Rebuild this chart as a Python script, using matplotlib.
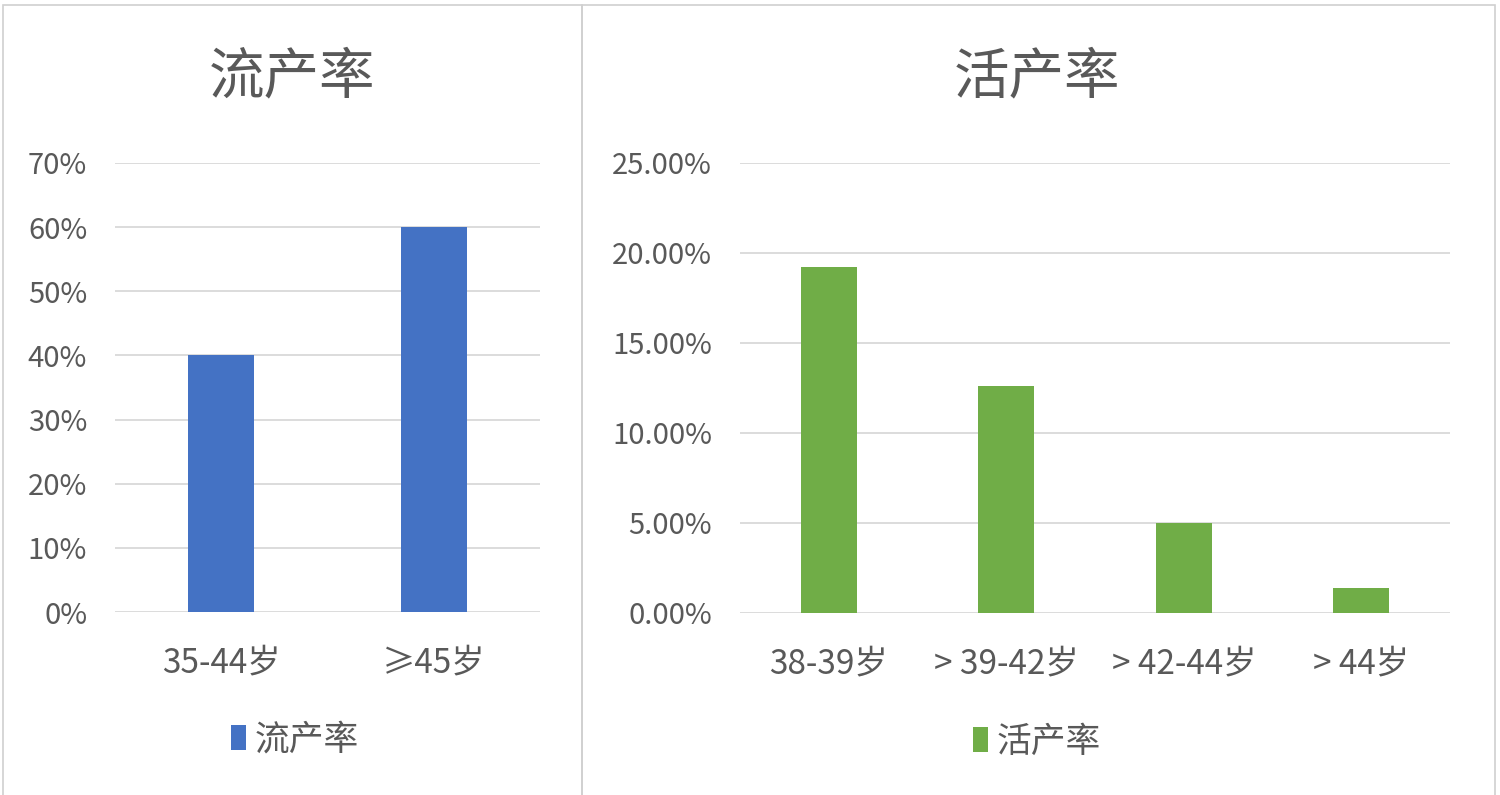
import matplotlib
matplotlib.use("Agg")
import matplotlib.pyplot as plt
from matplotlib.patches import Rectangle
from matplotlib.ticker import FuncFormatter

plt.rcParams['font.family'] = ['Noto Sans CJK SC', 'DejaVu Sans']

# data
left_title = "流产率"
left_cats = ["35-44岁", "≥45岁"]
left_vals = [0.40, 0.60]

right_title = "活产率"
right_cats = ["38-39岁", "> 39-42岁", "> 42-44岁", "> 44岁"]
right_vals = [0.192, 0.126, 0.050, 0.014]

BLUE = "#4472C4"
GREEN = "#70AD47"
GRID = "#D9D9D9"
TXT = "#595959"

W, H = 1500, 795
fig = plt.figure(figsize=(W / 100, H / 100), dpi=100)
fig.patch.set_facecolor("white")


def px_axes(x0, y0, x1, y1):
    # pixel box (top-left origin) -> figure axes
    return fig.add_axes([x0 / W, 1 - y1 / H, (x1 - x0) / W, (y1 - y0) / H])


def style(ax, ymax, step, fmt):
    ax.set_ylim(0, ymax)
    ax.set_yticks([i * step for i in range(int(round(ymax / step)) + 1)])
    ax.yaxis.set_major_formatter(FuncFormatter(fmt))
    ax.grid(axis='y', color=GRID, linewidth=1.3)
    ax.set_axisbelow(True)
    for s in ax.spines.values():
        s.set_visible(False)
    ax.tick_params(axis='both', length=0, colors=TXT)
    ax.tick_params(axis='y', pad=20, labelsize=21)
    ax.tick_params(axis='x', pad=24, labelsize=24)
    ax.set_facecolor("none")


# panel borders
fig.patches.append(Rectangle((3 / W, -0.01), 579 / W, 1 - 5 / H + 0.01,
                             transform=fig.transFigure, fill=False,
                             edgecolor="#D0D0D0", linewidth=1.2))
fig.patches.append(Rectangle((582 / W, -0.01), 913 / W, 1 - 5 / H + 0.01,
                             transform=fig.transFigure, fill=False,
                             edgecolor="#D0D0D0", linewidth=1.2))

# left chart
ax1 = px_axes(115, 163, 540, 612)
b1 = ax1.bar(range(len(left_cats)), left_vals, width=0.31, color=BLUE, label=left_title)
ax1.set_xlim(-0.5, len(left_cats) - 0.5)
ax1.set_xticks(range(len(left_cats)))
ax1.set_xticklabels(left_cats)
style(ax1, 0.7, 0.1, lambda v, p: "{:.0f}%".format(v * 100))
fig.text(292 / W, 1 - 78 / H, left_title, ha='center', va='center', fontsize=40, color=TXT)
fig.legend(handles=[b1], loc='center', bbox_to_anchor=(295 / W, 1 - 740 / H), frameon=False,
           fontsize=25, handlelength=0.45, handleheight=0.7, handletextpad=0.25,
           labelcolor=TXT)

# right chart
ax2 = px_axes(740, 163, 1450, 613)
b2 = ax2.bar(range(len(right_cats)), right_vals, width=0.315, color=GREEN, label=right_title)
ax2.set_xlim(-0.5, len(right_cats) - 0.5)
ax2.set_xticks(range(len(right_cats)))
ax2.set_xticklabels(right_cats)
style(ax2, 0.25, 0.05, lambda v, p: "{:.2f}%".format(v * 100))
fig.text(1037 / W, 1 - 78 / H, right_title, ha='center', va='center', fontsize=40, color=TXT)
fig.legend(handles=[b2], loc='center', bbox_to_anchor=(1037 / W, 1 - 742 / H), frameon=False,
           fontsize=25, handlelength=0.45, handleheight=0.7, handletextpad=0.25,
           labelcolor=TXT)

fig.savefig("out.png", dpi=100)
